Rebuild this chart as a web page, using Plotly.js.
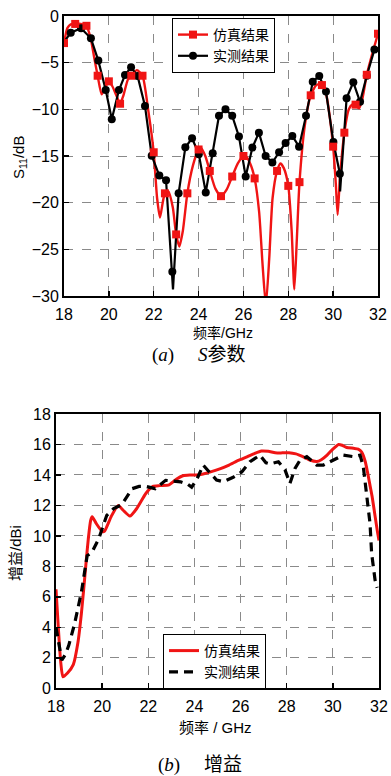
<!DOCTYPE html>
<html><head><meta charset="utf-8">
<script src="https://cdn.plot.ly/plotly-3.0.1.min.js"></script>
<style>html,body{margin:0;padding:0;background:#fff;}#plot{width:391px;height:776px;}</style>
</head><body><div id="plot"></div>
<script>
// ---- (a) S11 data ----
const simS11LineF = [18.0,18.15,18.3,18.5,18.75,19.0,19.2,19.35,19.5,19.68,19.85,20.0,20.15,20.35,20.5,20.65,20.85,21.0,21.25,21.5,21.75,22.0,22.15,22.28,22.4,22.5,22.65,22.85,23.0,23.14,23.3,23.5,23.75,24.0,24.1,24.3,24.5,24.75,25.0,25.25,25.5,25.75,26.0,26.1,26.3,26.5,26.7,26.85,27.0,27.15,27.3,27.5,27.65,27.8,28.0,28.15,28.27,28.38,28.5,28.75,29.0,29.25,29.5,29.7,29.85,30.0,30.12,30.2,30.3,30.5,30.7,30.85,31.0,31.15,31.3,31.5,31.75,32.0];
const simS11LineS = [-2.9,-1.3,-0.9,-0.85,-0.85,-1.05,-2.5,-4.5,-6.4,-8.4,-7.6,-7.0,-7.5,-8.6,-9.4,-8.5,-6.8,-6.4,-5.8,-6.4,-10.0,-14.6,-19.5,-21.6,-20.0,-19.0,-18.8,-20.5,-23.4,-24.7,-23.0,-19.0,-16.0,-14.3,-14.1,-15.0,-16.6,-18.5,-19.3,-18.6,-17.2,-15.8,-15.0,-15.0,-15.8,-17.4,-21.0,-26.5,-31.0,-26.0,-19.5,-16.6,-15.8,-16.3,-18.2,-23.0,-29.3,-24.0,-17.8,-11.5,-8.5,-7.4,-7.3,-8.5,-10.8,-14.0,-18.0,-21.3,-17.5,-12.5,-10.0,-9.5,-9.5,-9.9,-8.9,-6.3,-4.0,-1.9];
const simS11MarkF = [18.0,18.5,19.0,19.5,20.0,20.5,21.0,21.5,22.0,22.5,23.0,23.5,24.0,24.5,25.0,25.5,26.0,26.5,27.5,28.0,28.5,29.0,29.5,30.0,30.5,31.0,31.5,32.0];
const simS11MarkS = [-2.9,-0.85,-1.05,-6.4,-7.0,-9.4,-6.4,-6.4,-14.6,-19.0,-23.4,-19.0,-14.3,-16.6,-19.3,-17.2,-15.0,-17.4,-16.6,-18.2,-17.8,-8.5,-7.4,-14.0,-12.5,-9.5,-6.3,-1.9];

const meaS11LineF = [18.0,18.3,18.76,19.2,19.53,19.86,20.13,20.45,20.72,20.99,21.28,21.61,21.91,22.25,22.55,22.83,22.86,23.11,23.41,23.71,24.01,24.32,24.63,24.91,25.2,25.5,25.8,26.1,26.4,26.69,26.99,27.29,27.59,27.88,28.18,28.48,28.79,29.09,29.38,29.68,30.01,30.3,30.31,30.6,30.9,31.2,31.5,31.84,32.0];
const meaS11LineS = [-2.8,-1.79,-1.32,-2.39,-4.78,-7.93,-11.07,-7.93,-6.32,-5.5,-6.43,-9.64,-14.96,-17.1,-17.6,-27.4,-29.3,-19.0,-14.07,-13.1,-14.8,-18.9,-14.7,-10.7,-10.0,-10.7,-12.9,-17.2,-14.1,-12.5,-15.0,-15.7,-14.6,-13.6,-12.86,-14.0,-10.7,-7.04,-6.43,-8.1,-13.5,-16.9,-18.8,-8.8,-7.1,-9.2,-6.4,-3.6,-3.4];
const meaS11MarkF = [18.3,18.76,19.2,19.53,19.86,20.13,20.45,20.72,20.99,21.28,21.61,21.91,22.25,22.55,22.83,23.11,23.41,23.71,24.01,24.32,24.63,24.91,25.2,25.5,25.8,26.1,26.4,26.69,26.99,27.29,27.59,27.88,28.18,28.48,28.79,29.09,29.38,29.68,30.01,30.3,30.6,30.9,31.2,31.5,31.84];
const meaS11MarkS = [-1.79,-1.32,-2.39,-4.78,-7.93,-11.07,-7.93,-6.32,-5.5,-6.43,-9.64,-14.96,-17.1,-17.6,-27.4,-19.0,-14.07,-13.1,-14.8,-18.9,-14.7,-10.7,-10.0,-10.7,-12.9,-17.2,-14.1,-12.5,-15.0,-15.7,-14.6,-13.6,-12.86,-14.0,-10.7,-7.04,-6.43,-8.1,-13.5,-16.9,-8.8,-7.1,-9.2,-6.4,-3.6];

// ---- (b) gain data ----
const simGainF = [18.0,18.1,18.2,18.3,18.5,18.75,18.95,19.1,19.2,19.3,19.4,19.5,19.57,19.75,20.0,20.1,20.4,20.7,20.9,21.2,21.5,21.9,22.2,22.5,22.9,23.2,23.5,23.8,24.2,24.7,25.1,25.5,25.9,26.3,26.6,26.9,27.2,27.5,27.8,28.1,28.4,28.7,29.0,29.3,29.5,29.75,30.0,30.25,30.4,30.6,30.9,31.1,31.25,31.4,31.5,31.6,31.7,31.83,31.93,32.0];
const simGain = [6.5,4.0,1.8,0.75,1.0,1.55,3.0,4.9,6.5,8.2,9.8,11.0,11.25,10.8,10.3,10.3,11.3,12.0,11.7,11.3,11.8,12.8,13.25,13.3,13.35,13.7,13.95,14.0,14.0,14.2,14.4,14.65,14.95,15.2,15.4,15.57,15.55,15.45,15.45,15.46,15.38,15.2,14.98,14.88,15.0,15.3,15.7,16.0,15.95,15.8,15.75,15.7,15.5,14.9,14.2,13.4,12.6,11.3,10.3,9.7];
const meaGainF = [18.0,18.1,18.25,18.4,18.55,18.8,19.1,19.35,19.55,19.85,20.2,20.5,20.85,21.3,21.6,21.9,22.3,22.75,23.0,23.4,23.7,23.88,24.1,24.38,24.7,24.96,25.25,25.68,26.05,26.41,26.84,27.1,27.28,27.64,27.93,28.14,28.36,28.58,28.87,29.1,29.3,29.59,30.02,30.45,30.89,31.18,31.32,31.47,31.61,31.68,31.83,31.92];
const meaGain = [4.0,3.0,1.85,2.2,2.8,4.2,6.3,8.7,8.9,9.8,11.35,11.8,12.05,13.1,13.25,13.25,13.1,13.65,13.6,13.55,13.4,13.2,13.7,14.65,14.1,13.67,13.56,13.85,14.2,14.87,15.3,14.8,14.72,14.87,14.32,13.45,14.43,14.98,15.2,14.9,14.65,14.65,14.98,15.3,15.2,15.3,14.54,12.57,10.83,8.86,7.1,6.6];

const seriesNames = ['仿真结果','实测结果'];
const RED = '#f01414';
const FONT = 'Liberation Sans, Arial, Noto Sans CJK SC, sans-serif';
const SERIF = 'Liberation Serif, DejaVu Serif, Noto Sans CJK SC, serif';

const traces = [
  {x: simS11LineF, y: simS11LineS, mode:'lines', line:{color:RED, width:2.4, shape:'spline', smoothing:0.6}, showlegend:false, xaxis:'x', yaxis:'y'},
  {x: meaS11LineF, y: meaS11LineS, mode:'lines', line:{color:'#000', width:2.2}, showlegend:false, xaxis:'x', yaxis:'y'},
  {x: meaS11MarkF, y: meaS11MarkS, mode:'markers', marker:{color:'#000', size:8, symbol:'circle'}, showlegend:false, xaxis:'x', yaxis:'y'},
  {x: simS11MarkF, y: simS11MarkS, mode:'markers', marker:{color:RED, size:8, symbol:'square'}, showlegend:false, xaxis:'x', yaxis:'y'},
  {x:[null], y:[null], name: seriesNames[0], mode:'lines+markers', line:{color:RED, width:2.4}, marker:{color:RED, size:8, symbol:'square'}, legend:'legend', xaxis:'x', yaxis:'y'},
  {x:[null], y:[null], name: seriesNames[1], mode:'lines+markers', line:{color:'#000', width:2.2}, marker:{color:'#000', size:8, symbol:'circle'}, legend:'legend', xaxis:'x', yaxis:'y'},
  {x: simGainF, y: simGain, name: seriesNames[0], mode:'lines', line:{color:RED, width:3, shape:'spline', smoothing:0.5}, legend:'legend2', xaxis:'x2', yaxis:'y2'},
  {x: meaGainF, y: meaGain, name: seriesNames[1], mode:'lines', line:{color:'#000', width:3.2, dash:'9px,6px'}, legend:'legend2', xaxis:'x2', yaxis:'y2'}
];

const axBase = {
  showgrid:true, gridcolor:'#8a8a8a', gridwidth:1, griddash:'dash',
  showline:true, linecolor:'#000', linewidth:2, mirror:true,
  ticks:'inside', ticklen:5, tickcolor:'#000', tickwidth:1.5,
  zeroline:false, tickfont:{family:FONT, size:16, color:'#000'}
};

const W = 391, H = 776;
const px = v => v / W, py = v => 1 - v / H;
const ann = (text, x, y, size, fam, angle) => ({text, x:px(x), y:py(y), xref:'paper', yref:'paper', xanchor:'center', yanchor:'middle', textangle:angle||0, showarrow:false, font:{family:fam, size, color:'#000'}});

const layout = {
  width: W, height: H, margin:{l:0,r:0,t:0,b:0},
  paper_bgcolor:'#fff', plot_bgcolor:'#fff',
  font:{family:FONT, color:'#000'},
  xaxis: Object.assign({}, axBase, {domain:[px(64), px(378)], anchor:'y', range:[18,32], tick0:18, dtick:2, ticklabelstandoff:3}),
  yaxis: Object.assign({}, axBase, {domain:[py(296), py(16)], anchor:'x', range:[-30,0], dtick:5}),
  xaxis2: Object.assign({}, axBase, {domain:[px(56), px(379)], anchor:'y2', range:[18,32], tick0:18, dtick:2, ticklabelstandoff:2}),
  yaxis2: Object.assign({}, axBase, {domain:[py(688.3), py(414)], anchor:'x2', range:[0,18], dtick:2}),
  legend: {x:px(172), y:py(18), xanchor:'left', yanchor:'top', bgcolor:'#fff', bordercolor:'#000', borderwidth:1, font:{family:FONT, size:14, color:'#000'}, itemwidth:30, tracegroupgap:0},
  legend2: {x:px(163), y:py(634), xanchor:'left', yanchor:'top', bgcolor:'#fff', bordercolor:'#000', borderwidth:1, font:{family:FONT, size:14, color:'#000'}, itemwidth:30, tracegroupgap:0},
  annotations: [
    ann('S<sub>11</sub>/dB', 20, 158, 15, FONT, -90),
    ann('频率/GHz', 223, 333, 14, FONT),
    ann('(<i>a</i>)\u00a0\u00a0\u00a0\u00a0\u00a0<i>S</i>参数', 198, 355, 19, SERIF),
    ann('增益/dBi', 15, 553, 15, FONT, -90),
    ann('频率 / GHz', 216, 727, 15, FONT),
    ann('(<i>b</i>)\u00a0\u00a0\u00a0\u00a0\u00a0增益', 200, 765, 19, SERIF)
  ]
};

Plotly.newPlot('plot', traces, layout, {staticPlot:true, displayModeBar:false});
</script></body></html>
